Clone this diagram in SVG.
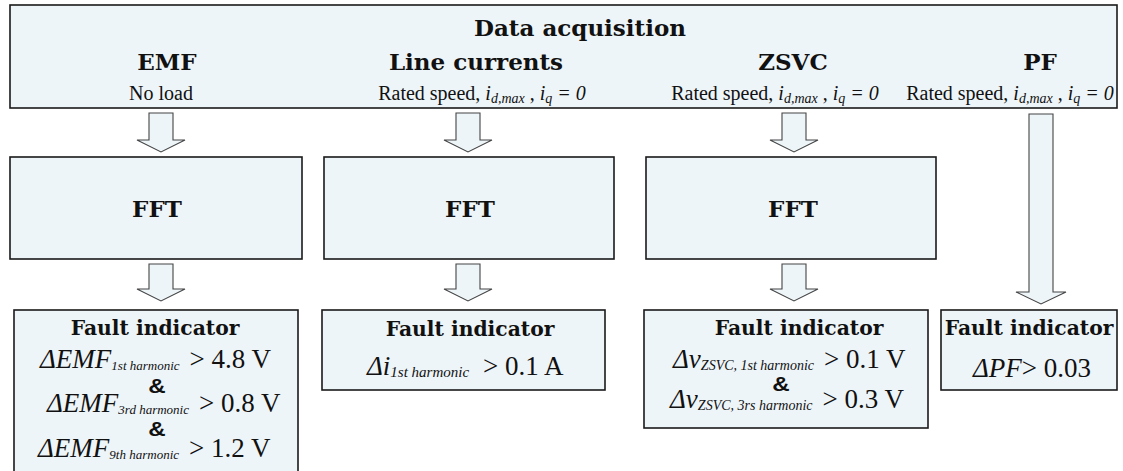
<svg xmlns="http://www.w3.org/2000/svg" width="1123" height="471" viewBox="0 0 1123 471">
<style>
.box{fill:#eef5f9;stroke:#1a1a1a;stroke-width:1.6}
.arr{fill:#eef5f9;stroke:#444;stroke-width:1.1;stroke-linejoin:miter}
.hd{font-family:"DejaVu Serif",serif;font-weight:bold;fill:#111;text-anchor:middle}
.rg{font-family:"Liberation Serif","Times New Roman",serif;fill:#111}
.it{font-style:italic}
.amp{font-family:"Liberation Sans",Arial,sans-serif;font-size:21px;font-weight:bold;fill:#111;text-anchor:middle}
</style>
<rect width="1123" height="471" fill="#ffffff"/>

<g id="acquisition">
<rect class="box" x="10" y="5" width="1107" height="103"/>
<text class="hd" x="580" y="36" font-size="23">Data acquisition</text>
<text class="hd" x="167" y="70" font-size="23">EMF</text>
<text class="hd" x="476" y="70" font-size="23">Line currents</text>
<text class="hd" x="793" y="70" font-size="23">ZSVC</text>
<text class="hd" x="1040" y="70" font-size="23">PF</text>
<text class="rg" x="161" y="100" font-size="20" text-anchor="middle">No load</text>
<text class="rg" x="482" y="100" font-size="20" text-anchor="middle">Rated speed, <tspan class="it">i</tspan><tspan class="it" font-size="14" dy="3">d,max</tspan><tspan dy="-3"> , </tspan><tspan class="it">i</tspan><tspan class="it" font-size="14" dy="3">q</tspan><tspan class="it" dy="-3"> = 0</tspan></text>
<text class="rg" x="775" y="100" font-size="20" text-anchor="middle">Rated speed, <tspan class="it">i</tspan><tspan class="it" font-size="14" dy="3">d,max</tspan><tspan dy="-3"> , </tspan><tspan class="it">i</tspan><tspan class="it" font-size="14" dy="3">q</tspan><tspan class="it" dy="-3"> = 0</tspan></text>
<text class="rg" x="1010" y="100" font-size="20" text-anchor="middle">Rated speed, <tspan class="it">i</tspan><tspan class="it" font-size="14" dy="3">d,max</tspan><tspan dy="-3"> , </tspan><tspan class="it">i</tspan><tspan class="it" font-size="14" dy="3">q</tspan><tspan class="it" dy="-3"> = 0</tspan></text>
</g>

<g id="fft-emf">
<rect class="box" x="10" y="157" width="292" height="102"/>
<text class="hd" x="157" y="217" font-size="23">FFT</text>
</g>
<g id="fft-line">
<rect class="box" x="324" y="157" width="290" height="102"/>
<text class="hd" x="470" y="217" font-size="23">FFT</text>
</g>
<g id="fft-zsvc">
<rect class="box" x="646" y="157" width="290" height="102"/>
<text class="hd" x="793" y="217" font-size="23">FFT</text>
</g>

<g id="fault-emf">
<rect class="box" x="14" y="310" width="284" height="175"/>
<text class="hd" x="155" y="335" font-size="20.3">Fault indicator</text>
<text class="rg" x="40" y="368" font-size="27"><tspan class="it">ΔEMF</tspan><tspan class="it" font-size="13" dy="2">1st harmonic</tspan><tspan dy="-2" dx="10">&gt; 4.8 V</tspan></text>
<text class="amp" transform="translate(157,393) scale(1.15,1)">&amp;</text>
<text class="rg" x="47" y="412" font-size="27"><tspan class="it">ΔEMF</tspan><tspan class="it" font-size="13" dy="2">3rd harmonic</tspan><tspan dy="-2" dx="10">&gt; 0.8 V</tspan></text>
<text class="amp" transform="translate(157,436) scale(1.15,1)">&amp;</text>
<text class="rg" x="38" y="457" font-size="27"><tspan class="it">ΔEMF</tspan><tspan class="it" font-size="13" dy="2">9th harmonic</tspan><tspan dy="-2" dx="10">&gt; 1.2 V</tspan></text>
</g>

<g id="fault-line">
<rect class="box" x="322" y="310" width="283" height="80"/>
<text class="hd" x="470" y="336" font-size="20.3">Fault indicator</text>
<text class="rg" x="367" y="375" font-size="27"><tspan class="it">Δi</tspan><tspan class="it" font-size="15" dy="2">1st harmonic</tspan><tspan dy="-2" dx="14">&gt; 0.1 A</tspan></text>
</g>

<g id="fault-zsvc">
<rect class="box" x="644" y="310" width="284" height="118"/>
<text class="hd" x="799" y="335" font-size="20.3">Fault indicator</text>
<text class="rg" x="673" y="368" font-size="27"><tspan class="it">Δv</tspan><tspan class="it" font-size="14" dy="2">ZSVC, 1st harmonic</tspan><tspan dy="-2" dx="10">&gt; 0.1 V</tspan></text>
<text class="amp" transform="translate(781,391) scale(1.15,1)">&amp;</text>
<text class="rg" x="670" y="408" font-size="27"><tspan class="it">Δv</tspan><tspan class="it" font-size="14" dy="2">ZSVC, 3rs harmonic</tspan><tspan dy="-2" dx="10">&gt; 0.3 V</tspan></text>
</g>

<g id="fault-pf">
<rect class="box" x="941" y="310" width="176" height="80"/>
<text class="hd" x="1029" y="335" font-size="20.3">Fault indicator</text>
<text class="rg" x="973" y="377" font-size="27"><tspan class="it">ΔPF</tspan>&gt; 0.03</text>
</g>

<g id="connectors">
<path class="arr" d="M149,113 H173 V140 H185 L161,152 L137,140 H149 Z"/>
<path class="arr" d="M456,113 H480 V140 H492 L468,152 L444,140 H456 Z"/>
<path class="arr" d="M782,113 H806 V140 H818 L794,152 L770,140 H782 Z"/>
<path class="arr" d="M1029,114 H1053 V292 H1066 L1041,304 L1016,292 H1029 Z"/>
<path class="arr" d="M149,264 H173 V289 H185 L161,301 L137,289 H149 Z"/>
<path class="arr" d="M456,264 H480 V289 H492 L468,301 L444,289 H456 Z"/>
<path class="arr" d="M782,264 H806 V289 H818 L794,301 L770,289 H782 Z"/>
</g>
</svg>
